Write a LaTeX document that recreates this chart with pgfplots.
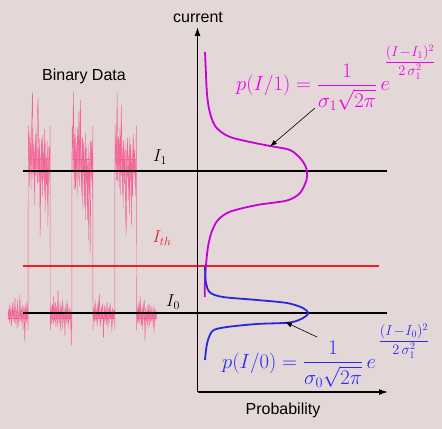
\documentclass[border=0pt]{standalone}
\usepackage{amsmath}
\usepackage{pgfplots}
\pgfplotsset{compat=1.18}
\usepackage{fontspec}
\setmainfont{Liberation Sans}
\usetikzlibrary{arrows.meta}
\definecolor{bg}{RGB}{227,215,215}
\definecolor{sig}{RGB}{242,100,150}
\definecolor{curvemag}{RGB}{200,0,215}
\definecolor{txtmag}{RGB}{240,0,240}
\definecolor{curveblue}{RGB}{40,40,220}
\definecolor{txtblue}{RGB}{40,40,255}
\definecolor{thr}{RGB}{240,30,40}
\begin{document}
\begin{tikzpicture}
\begin{axis}[
  scale only axis, width=442bp, height=429bp,
  xmin=0, xmax=442, ymin=0, ymax=429, y dir=reverse,
  hide axis, clip=false, unbounded coords=jump,
]
\fill[bg] (axis cs:0,0) rectangle (axis cs:442,429);

% noisy binary signal
\addplot[sig, line width=0.45bp] coordinates {
(8.0,318)(8.7,309)(9.4,323)(10.1,306)(10.8,317)(11.5,326)(12.2,302)(12.9,316)(13.6,310)(14.3,322)
(15.0,298)(15.7,319)(16.4,312)(17.1,328)(17.8,307)(18.5,320)(19.2,313)(19.9,295)(20.6,321)(21.3,309)
(22.0,324)(22.7,305)(23.4,318)(24.1,311)(24.8,342)(25.5,308)(26.2,320)(26.9,302)(27.6,314)
(28.1,330)(28.3,126)
(29.0,150)(29.7,186)(30.4,138)(31.1,173)(31.8,118)(32.5,92)(33.2,168)(33.9,144)(34.6,192)(35.3,134)
(36.0,176)(36.7,157)(37.4,112)(38.1,98)(38.8,182)(39.5,148)(40.2,236)(40.9,166)(41.6,139)(42.3,196)
(43.0,154)(43.7,179)(44.4,129)(45.1,212)(45.8,161)(46.5,186)(47.2,141)(47.9,226)(48.6,166)(49.3,147)
(49.8,181)(50.1,126)(50.3,330)
(51.0,310)(51.7,324)(52.4,304)(53.1,317)(53.8,296)(54.5,321)(55.2,309)(55.9,327)(56.6,306)(57.3,318)
(58.0,290)(58.7,314)(59.4,323)(60.1,303)(60.8,319)(61.5,311)(62.2,330)(62.9,305)(63.6,320)(64.3,312)
(65.0,336)(65.7,307)(66.4,322)(67.1,300)(67.8,316)(68.5,324)(69.2,309)(69.9,319)(70.6,313)(71.3,345)
(71.6,315)(71.8,330)(72.0,126)
(72.7,148)(73.4,92)(74.1,170)(74.8,135)(75.5,189)(76.2,143)(76.9,177)(77.6,127)(78.3,162)(79.0,110)
(79.7,186)(80.4,100)(81.1,158)(81.8,196)(82.5,137)(83.2,172)(83.9,151)(84.6,205)(85.3,133)(86.0,181)
(86.7,160)(87.4,219)(88.1,145)(88.8,190)(89.5,168)(90.2,253)(90.9,175)(91.6,142)(92.3,186)(92.6,160)
(92.8,126)(93.0,330)
(93.7,308)(94.4,322)(95.1,300)(95.8,317)(96.5,311)(97.2,326)(97.9,304)(98.6,319)(99.3,294)(100.0,315)
(100.7,324)(101.4,307)(102.1,318)(102.8,312)(103.5,338)(104.2,305)(104.9,321)(105.6,309)(106.3,325)(107.0,302)
(107.7,317)(108.4,311)(109.1,323)(109.8,306)(110.5,319)(111.2,313)(111.9,332)(112.6,308)(113.3,318)(114.0,310)
(114.6,316)(114.8,330)(115.0,124)
(115.7,152)(116.4,180)(117.1,92)(117.8,165)(118.5,137)(119.2,188)(119.9,128)(120.6,172)(121.3,105)(122.0,158)
(122.7,193)(123.4,140)(124.1,176)(124.8,150)(125.5,206)(126.2,235)(126.9,162)(127.6,138)(128.3,185)(129.0,155)
(129.7,214)(130.4,144)(131.1,178)(131.8,160)(132.5,197)(133.2,134)(133.9,172)(134.6,150)(135.3,188)(136.0,158)
(136.3,126)(136.6,330)
(137.3,309)(138.0,323)(138.7,303)(139.4,318)(140.1,296)(140.8,312)(141.5,325)(142.2,307)(142.9,320)(143.6,311)
(144.3,300)(145.0,341)(145.7,314)(146.4,322)(147.1,306)(147.8,318)(148.5,310)(149.2,327)(149.9,304)(150.6,316)
(151.3,321)(152.0,308)(152.7,319)(153.4,312)(154.1,333)(154.8,309)(155.5,317)(156.2,313)(156.9,318)
};
% second noise trace, thickening each bit
\addplot[sig, line width=0.45bp, opacity=0.8] coordinates {
(8.3,312)(9.0,320)(9.7,305)(10.4,318)(11.1,310)(11.8,322)(12.5,308)(13.2,319)(13.9,303)(14.6,316)
(15.3,324)(16.0,309)(16.7,318)(17.4,300)(18.1,314)(18.8,326)(19.5,311)(20.2,317)(20.9,306)(21.6,320)
(22.3,312)(23.0,330)(23.7,308)(24.4,318)(25.1,304)(25.8,315)(26.5,322)(27.2,310)(27.9,318)(27.9,nan)
(28.4,140)(29.1,178)(29.8,131)(30.5,165)(31.2,146)(31.9,190)(32.6,128)(33.3,175)(34.0,152)(34.7,205)
(35.4,142)(36.1,168)(36.8,130)(37.5,184)(38.2,148)(38.9,172)(39.6,139)(40.3,198)(41.0,155)(41.7,181)
(42.4,135)(43.1,170)(43.8,150)(44.5,192)(45.2,140)(45.9,176)(46.6,158)(47.3,200)(48.0,145)(48.7,183)
(49.4,160)(49.4,nan)
(50.6,318)(51.3,306)(52.0,320)(52.7,311)(53.4,325)(54.1,308)(54.8,316)(55.5,302)(56.2,319)(56.9,312)
(57.6,326)(58.3,307)(59.0,318)(59.7,310)(60.4,332)(61.1,306)(61.8,317)(62.5,300)(63.2,315)(63.9,323)
(64.6,309)(65.3,318)(66.0,304)(66.7,320)(67.4,311)(68.1,328)(68.8,306)(69.5,316)(70.2,322)(70.9,308)
(71.5,318)(71.5,nan)
(72.3,135)(73.0,172)(73.7,140)(74.4,190)(75.1,128)(75.8,166)(76.5,150)(77.2,198)(77.9,138)(78.6,180)
(79.3,145)(80.0,170)(80.7,131)(81.4,188)(82.1,155)(82.8,209)(83.5,142)(84.2,176)(84.9,160)(85.6,220)
(86.3,148)(87.0,185)(87.7,165)(88.4,240)(89.1,152)(89.8,195)(90.5,140)(91.2,178)(91.9,158)(92.5,200)
(92.5,nan)
(93.4,316)(94.1,305)(94.8,320)(95.5,310)(96.2,322)(96.9,307)(97.6,317)(98.3,301)(99.0,318)(99.7,311)
(100.4,327)(101.1,309)(101.8,320)(102.5,304)(103.2,316)(103.9,324)(104.6,310)(105.3,318)(106.0,306)(106.7,321)
(107.4,313)(108.1,329)(108.8,307)(109.5,317)(110.2,303)(110.9,318)(111.6,311)(112.3,323)(113.0,309)(113.7,319)
(114.4,312)(114.4,nan)
(115.4,138)(116.1,166)(116.8,125)(117.5,182)(118.2,150)(118.9,170)(119.6,140)(120.3,195)(121.0,132)(121.7,176)
(122.4,148)(123.1,208)(123.8,158)(124.5,185)(125.2,142)(125.9,220)(126.6,150)(127.3,178)(128.0,165)(128.7,200)
(129.4,138)(130.1,180)(130.8,156)(131.5,226)(132.2,147)(132.9,186)(133.6,140)(134.3,175)(135.0,162)(135.7,196)
(135.7,nan)
(137.0,317)(137.7,306)(138.4,321)(139.1,311)(139.8,325)(140.5,305)(141.2,318)(141.9,310)(142.6,330)(143.3,303)
(144.0,316)(144.7,322)(145.4,308)(146.1,319)(146.8,312)(147.5,326)(148.2,304)(148.9,317)(149.6,311)(150.3,323)
(151.0,306)(151.7,318)(152.4,312)(153.1,327)(153.8,305)(154.5,316)(155.2,321)(155.9,309)(156.6,316)
};
% mean levels inside each bit
\addplot[sig, line width=0.45bp] coordinates {
(28,159)(50,159)(50,nan)(72,159)(93,159)(93,nan)(115,159)(136.5,159)(136.5,nan)
(8,318)(28,318)(28,nan)(50,318)(72,318)(72,nan)(93,318)(115,318)(115,nan)(136.5,318)(157,318)
};

% decision levels
\addplot[black, line width=1.8bp] coordinates {(23,170.7)(387,170.7)};
\addplot[black, line width=1.8bp] coordinates {(23,313.3)(387,313.3)};
\addplot[thr, line width=2.2bp] coordinates {(23,266)(379,266)};

% axes of the probability plot
\addplot[black, line width=1.2bp, -{Latex[length=9bp,width=6bp]}] coordinates {(197.5,392)(197.5,27)};
\addplot[black, line width=1.2bp, -{Latex[length=9bp,width=6bp]}] coordinates {(197.5,392)(388,392)};

% probability densities
\addplot[curvemag, line width=1.8bp, smooth] coordinates {
(205,52)(206,75)(206.7,90)(208,103)(210,113)(213,122)(216.7,128)(224,134)(233,138)(250,142)
(270,146)(290,150)(300,158)(305,165)(307,172)(306.5,180)(300,193)(287,200.5)(257,205)(230,211.7)
(218,220)(211.7,231.7)(208,246.7)(206,265)(205,280)(204.7,297)
};
\addplot[curveblue, line width=1.8bp, smooth] coordinates {
(205,266.7)(206,283)(210,292.5)(223,297)(257,300)(287,303)(303,308)(308.3,313.3)(303,318)(290,322.5)
(257,324)(227,327)(213,330.5)(208,340)(206,350)(205,360)
};

% pointer arrows
\draw[black, line width=0.6bp, -{Latex[length=7bp,width=5bp]}] (axis cs:315,108) -- (axis cs:270,146.5);
\draw[black, line width=0.6bp, -{Latex[length=7bp,width=5bp]}] (axis cs:317,337) -- (axis cs:285,322);

% texts
\node[font=\fontsize{16bp}{18bp}\selectfont] at (axis cs:84,76) {Binary Data};
\node[font=\fontsize{16bp}{18bp}\selectfont] at (axis cs:198,17) {current};
\node[font=\fontsize{16bp}{18bp}\selectfont] at (axis cs:283,410) {Probability};

\node[font=\fontsize{18bp}{20bp}\selectfont] at (axis cs:160,157) {$I_1$};
\node[font=\fontsize{18bp}{20bp}\selectfont, text=thr] at (axis cs:162,238) {$I_{th}$};
\node[font=\fontsize{18bp}{20bp}\selectfont] at (axis cs:173,302) {$I_0$};

\node[anchor=base west, inner sep=0pt, text=txtmag, font=\fontsize{19.5bp}{22bp}\selectfont]
  at (axis cs:236,91) {$p(I/1)=\dfrac{1}{\sigma_1\sqrt{2\pi}}\,e$};
\node[anchor=base, inner sep=0pt, text=txtmag, font=\fontsize{14bp}{15bp}\selectfont]
  at (axis cs:410,66) {$\dfrac{(I\!-\!I_1)^2}{2\,\sigma_1^2}$};

\node[anchor=base west, inner sep=0pt, text=txtblue, font=\fontsize{19.5bp}{22bp}\selectfont]
  at (axis cs:222,368) {$p(I/0)=\dfrac{1}{\sigma_0\sqrt{2\pi}}\,e$};
\node[anchor=base, inner sep=0pt, text=txtblue, font=\fontsize{14bp}{15bp}\selectfont]
  at (axis cs:404,345) {$\dfrac{(I\!-\!I_0)^2}{2\,\sigma_1^2}$};
\end{axis}
\end{tikzpicture}
\end{document}
